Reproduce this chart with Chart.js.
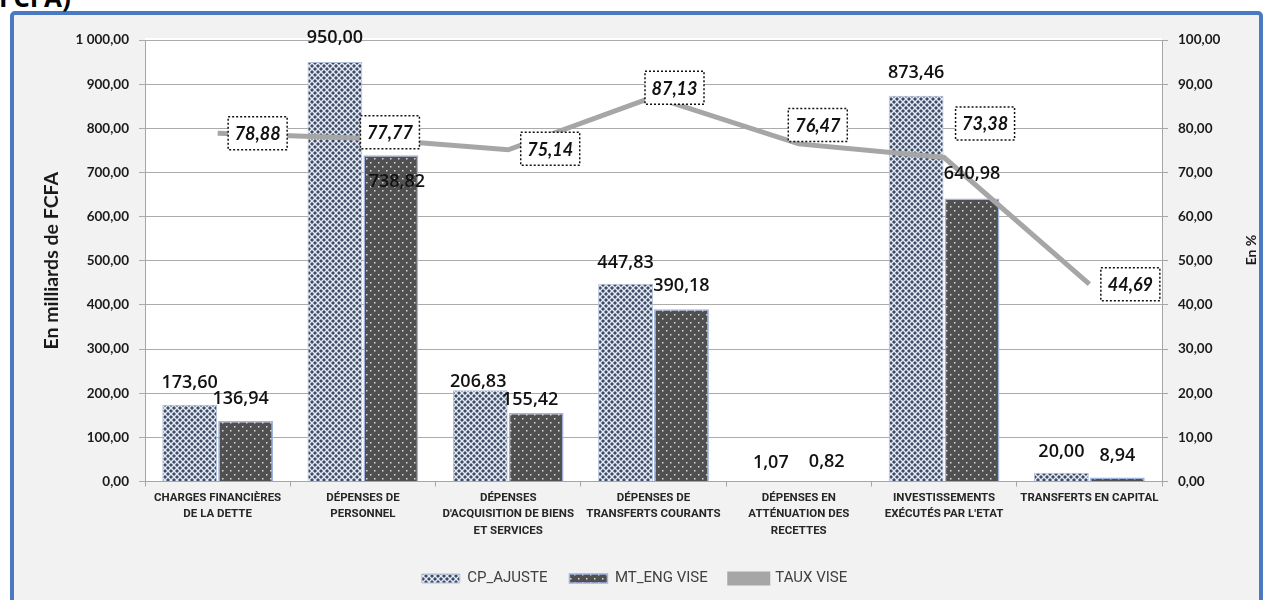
<!DOCTYPE html>
<html lang="fr">
<head>
<meta charset="utf-8">
<title>Exécution des dépenses</title>
<script src="https://cdn.jsdelivr.net/npm/chart.js@4/dist/chart.umd.min.js"></script>
<style>
  html, body { margin: 0; padding: 0; width: 1269px; height: 600px; overflow: hidden; background: #ffffff; }
  .frame { position: absolute; left: 10px; top: 11px; width: 1245px; height: 640px;
           border: 4px solid #4a78c2; border-radius: 5px; background: #f2f2f2; }
  .head { position: absolute; left: -1px; top: -21px; line-height: 26px;
          font: bold 26px 'Open Sans', sans-serif; color: #000; white-space: nowrap; }
  canvas { position: absolute; left: 0; top: 0; }
</style>
</head>
<body>
<div class="frame"></div>
<div class="head">FCFA)</div>
<canvas id="chart" width="1269" height="600"></canvas>
<script>
// ---- data ----
const categories = [
  ['CHARGES FINANCIÈRES', 'DE LA DETTE'],
  ['DÉPENSES DE', 'PERSONNEL'],
  ['DÉPENSES', "D'ACQUISITION DE BIENS", 'ET SERVICES'],
  ['DÉPENSES DE', 'TRANSFERTS COURANTS'],
  ['DÉPENSES EN', 'ATTÉNUATION DES', 'RECETTES'],
  ['INVESTISSEMENTS', "EXÉCUTÉS PAR L'ETAT"],
  ['TRANSFERTS EN CAPITAL']
];
const cpAjuste  = [173.60, 950.00, 206.83, 447.83, 1.07, 873.46, 20.00];
const mtEngVise = [136.94, 738.82, 155.42, 390.18, 0.82, 640.98, 8.94];
const tauxVise  = [78.88, 77.77, 75.14, 87.13, 76.47, 73.38, 44.69];
const amountTicks = [0, 100, 200, 300, 400, 500, 600, 700, 800, 900, 1000];
const rateTicks   = [0, 10, 20, 30, 40, 50, 60, 70, 80, 90, 100];
const seriesNames = ['CP_AJUSTE', 'MT_ENG VISE', 'TAUX VISE'];

// ---- label placement (pixels, relative to the bar top / line point) ----
const cpLabelShift   = [[0, -22], [0, -24], [-2, -8], [0, -21], [0, -18], [0, -23], [0, -21]];
const mtLabelShift   = [[-5, -22], [6, 27], [-6, -13], [0, -23], [0, -19], [0, -25], [0, -22]];
const rateLabelShift = [[40, 0], [27, -6], [42, -1], [21, -9], [19, -19], [41, -34], [41, 0]];

// ---- styling helpers ----
const NUM_FONT = "Lato, 'Open Sans', sans-serif";
const LABEL_FONT = "Roboto, 'Liberation Sans', sans-serif";

function fmt(v) {
  const parts = Math.abs(v).toFixed(2).split('.');
  const int = parts[0].replace(/\B(?=(\d{3})+(?!\d))/g, ' ');
  return (v < 0 ? '-' : '') + int + ',' + parts[1];
}

function latticePattern() {
  const c = document.createElement('canvas');
  c.width = 6; c.height = 6;
  const g = c.getContext('2d');
  g.fillStyle = '#e4eaf3';
  g.fillRect(0, 0, 6, 6);
  g.fillStyle = '#3c4b66';
  const diamond = (cx, cy, r) => {
    g.beginPath();
    g.moveTo(cx, cy - r); g.lineTo(cx + r, cy); g.lineTo(cx, cy + r); g.lineTo(cx - r, cy);
    g.closePath(); g.fill();
  };
  diamond(3, 3, 2);
  diamond(0, 0, 2); diamond(6, 0, 2); diamond(0, 6, 2); diamond(6, 6, 2);
  return g.createPattern(c, 'repeat');
}

function dotPattern() {
  const c = document.createElement('canvas');
  c.width = 8; c.height = 8;
  const g = c.getContext('2d');
  g.fillStyle = '#505050';
  g.fillRect(0, 0, 8, 8);
  g.fillStyle = '#dcdcdc';
  g.fillRect(2, 2, 1.5, 1.5);
  g.fillRect(6, 6, 1.5, 1.5);
  return g.createPattern(c, 'repeat');
}

// white plotting area
const plotBackground = {
  id: 'plotBackground',
  beforeDraw(chart) {
    const { ctx, chartArea: a } = chart;
    ctx.save();
    ctx.fillStyle = '#ffffff';
    ctx.fillRect(a.left, a.top - 2, a.right - a.left, a.bottom - a.top + 2);
    ctx.restore();
  }
};

// value labels on bars and framed labels on the rate line
const valueLabels = {
  id: 'valueLabels',
  afterDatasetsDraw(chart) {
    const ctx = chart.ctx;
    ctx.save();
    ctx.textAlign = 'center';
    ctx.textBaseline = 'middle';

    ctx.font = "600 18px 'Open Sans', sans-serif";
    ctx.fillStyle = '#111111';
    [[0, cpAjuste, cpLabelShift], [1, mtEngVise, mtLabelShift]].forEach(([idx, values, shift]) => {
      chart.getDatasetMeta(idx).data.forEach((bar, i) => {
        ctx.fillText(fmt(values[i]), bar.x + shift[i][0], bar.y + shift[i][1]);
      });
    });

    ctx.font = 'italic bold 18px ' + NUM_FONT;
    chart.getDatasetMeta(2).data.forEach((pt, i) => {
      const cx = pt.x + rateLabelShift[i][0];
      const cy = pt.y + rateLabelShift[i][1];
      const w = 59, h = 33;
      ctx.fillStyle = '#ffffff';
      ctx.fillRect(cx - w / 2, cy - h / 2, w, h);
      ctx.setLineDash([2, 2]);
      ctx.lineWidth = 1.5;
      ctx.strokeStyle = '#111111';
      ctx.strokeRect(cx - w / 2, cy - h / 2, w, h);
      ctx.setLineDash([]);
      ctx.fillStyle = '#111111';
      ctx.fillText(fmt(tauxVise[i]), cx, cy + 1);
    });
    ctx.restore();
  }
};

// axis titles, both reading upwards
const axisTitles = {
  id: 'axisTitles',
  afterDraw(chart) {
    const { ctx, chartArea: a } = chart;
    const midY = (a.top + a.bottom) / 2;
    ctx.save();
    ctx.fillStyle = '#1a1a1a';
    ctx.textAlign = 'center';
    ctx.textBaseline = 'middle';
    ctx.translate(52, midY);
    ctx.rotate(-Math.PI / 2);
    ctx.font = 'bold 19.5px ' + NUM_FONT;
    ctx.fillText('En milliards de FCFA', 0, 0);
    ctx.restore();

    ctx.save();
    ctx.fillStyle = '#1a1a1a';
    ctx.textAlign = 'center';
    ctx.textBaseline = 'middle';
    ctx.translate(1251, 250);
    ctx.rotate(-Math.PI / 2);
    ctx.font = 'bold 14px ' + NUM_FONT;
    ctx.fillText('En %', 0, 0);
    ctx.restore();
  }
};

const tickFont = { family: NUM_FONT, size: 13.5, weight: 'bold' };

new Chart(document.getElementById('chart'), {
  type: 'bar',
  data: {
    labels: categories,
    datasets: [
      {
        label: seriesNames[0],
        data: cpAjuste,
        backgroundColor: latticePattern(),
        borderColor: '#b3c1d8',
        borderWidth: 1,
        yAxisID: 'y',
        order: 1,
        categoryPercentage: 0.77,
        barPercentage: 0.98
      },
      {
        label: seriesNames[1],
        data: mtEngVise,
        backgroundColor: dotPattern(),
        borderColor: '#9fb3df',
        borderWidth: 1.5,
        yAxisID: 'y',
        order: 1,
        categoryPercentage: 0.77,
        barPercentage: 0.98
      },
      {
        type: 'line',
        label: seriesNames[2],
        data: tauxVise,
        borderColor: '#a6a6a6',
        backgroundColor: '#a6a6a6',
        borderWidth: 5,
        pointRadius: 0,
        tension: 0,
        yAxisID: 'y1',
        order: 0
      }
    ]
  },
  options: {
    responsive: false,
    animation: false,
    devicePixelRatio: 1,
    layout: { padding: { top: 40, left: 0, right: 0, bottom: 4 } },
    plugins: {
      tooltip: { enabled: false },
      legend: {
        position: 'bottom',
        labels: {
          boxWidth: 38,
          boxHeight: 9,
          padding: 22,
          color: '#404040',
          font: { family: LABEL_FONT, size: 15 },
          sort: (a, b) => a.datasetIndex - b.datasetIndex
        }
      }
    },
    scales: {
      x: {
        offset: true,
        grid: { offset: true, drawOnChartArea: false, tickLength: 5, color: '#a6a6a6' },
        border: { color: '#a6a6a6' },
        ticks: {
          autoSkip: false, maxRotation: 0, minRotation: 0, padding: 3,
          color: '#262626',
          font: { family: LABEL_FONT, size: 11.5, weight: 'bold', lineHeight: 1.45 }
        },
        afterFit(s) { s.height = 67.5; }
      },
      y: {
        position: 'left',
        min: 0, max: 1000,
        afterBuildTicks(s) { s.ticks = amountTicks.map(v => ({ value: v })); },
        grid: { color: '#ababab', tickLength: 6 },
        border: { color: '#a6a6a6' },
        ticks: { padding: 10, color: '#1a1a1a', font: tickFont, callback: v => fmt(v) },
        afterFit(s) { s.width = 145; }
      },
      y1: {
        position: 'right',
        min: 0, max: 100,
        afterBuildTicks(s) { s.ticks = rateTicks.map(v => ({ value: v })); },
        grid: { drawOnChartArea: false, color: '#a6a6a6', tickLength: 6 },
        border: { color: '#a6a6a6' },
        ticks: { padding: 10, color: '#1a1a1a', font: tickFont, callback: v => fmt(v) },
        afterFit(s) { s.width = 107; }
      }
    }
  },
  plugins: [plotBackground, valueLabels, axisTitles]
});
</script>
</body>
</html>
